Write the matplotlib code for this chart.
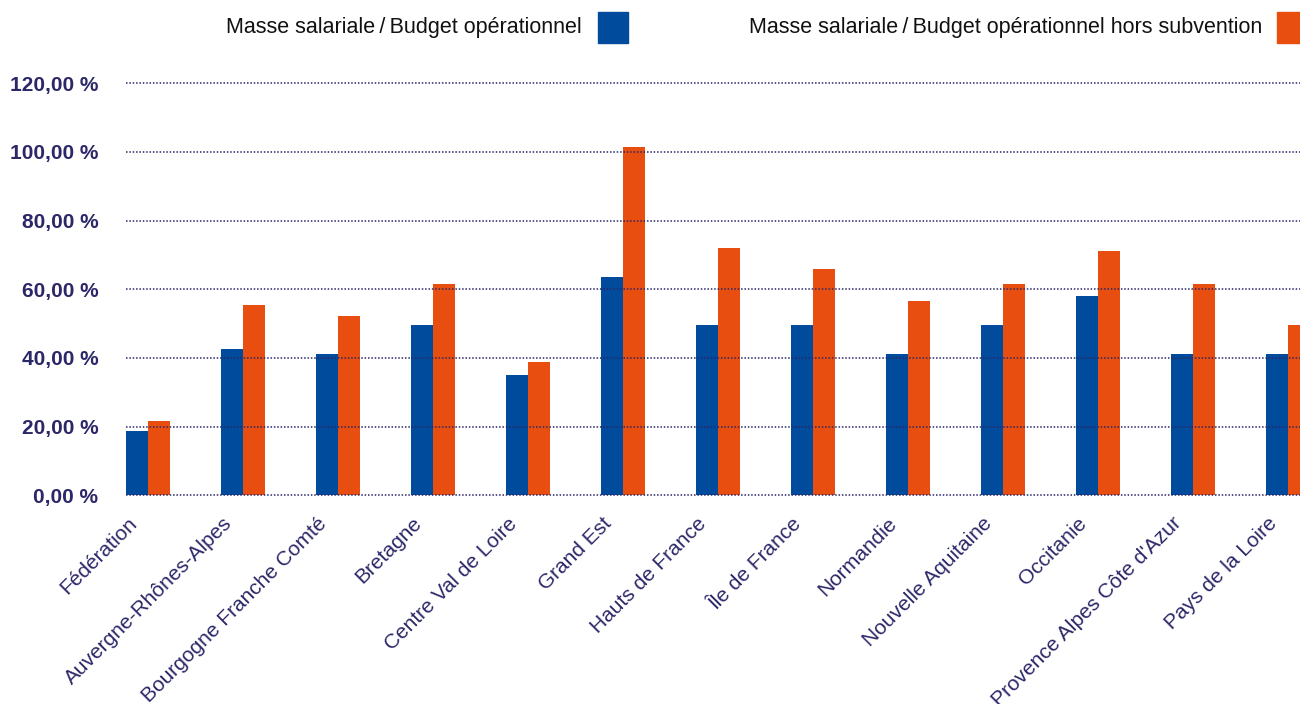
import matplotlib
matplotlib.use("Agg")
import matplotlib.pyplot as plt
import matplotlib.transforms as mtransforms
import numpy as np

categories = ["Fédération", "Auvergne-Rhônes-Alpes", "Bourgogne Franche Comté", "Bretagne",
              "Centre Val de Loire", "Grand Est", "Hauts de France", "Île de France",
              "Normandie", "Nouvelle Aquitaine", "Occitanie", "Provence Alpes Côte d'Azur",
              "Pays de la Loire"]
masse_budget = [18.7, 42.6, 41.2, 49.6, 35.1, 63.5, 49.6, 49.6, 41.2, 49.6, 58.1, 41.2, 41.2]
masse_budget_hors_subv = [21.7, 55.5, 52.3, 61.5, 38.9, 101.5, 72.0, 66.0, 56.6, 61.5, 71.2, 61.5, 49.6]
yticks = [0, 20, 40, 60, 80, 100, 120]
ytick_labels = ["0,00 %", "20,00 %", "40,00 %", "60,00 %", "80,00 %", "100,00 %", "120,00 %"]
legend_labels = ["Masse salariale\u2009/\u2009Budget opérationnel",
                 "Masse salariale\u2009/\u2009Budget opérationnel hors subvention"]

BLUE = "#004b9b"
ORANGE = "#e84e0f"
NAVY = "#2b2768"

plt.rcParams['font.family'] = ['Liberation Sans', 'DejaVu Sans']

W, H = 1300, 704
fig = plt.figure(figsize=(W / 100, H / 100), dpi=100)

# pixel geometry
ppu = (495.3 - 83.3) / 120.0
y0_px = 495.3
ymin, ymax = -1.2, 121.5
bottom_px = y0_px + (0 - ymin) * ppu
top_px = y0_px - (ymax - 0) * ppu
spacing = 95.0
bw = 22.0 / spacing
left_px = 126.0
xmin = -bw
xmax = xmin + (W - left_px) / spacing

ax = fig.add_axes([left_px / W, 1 - bottom_px / H, (W - left_px) / W, (bottom_px - top_px) / H])
x = np.arange(len(categories))
ax.bar(x - bw / 2, masse_budget, width=bw, color=BLUE, zorder=1)
ax.bar(x + bw / 2, masse_budget_hors_subv, width=bw, color=ORANGE, zorder=1)

ax.set_xlim(xmin, xmax)
ax.set_ylim(ymin, ymax)
ax.set_yticks(yticks)
ax.set_yticklabels(ytick_labels, fontsize=15, fontweight='bold', color=NAVY)
ax.set_xticks([])
# category labels, rotated, anchored just below each blue bar
lbl_tr = ax.get_xaxis_transform() + mtransforms.ScaledTranslation(-10 / 100, -14.5 / 100, fig.dpi_scale_trans)
for xi, cat in zip(x, categories):
    ax.text(xi - bw / 2, 0, cat, transform=lbl_tr, rotation=45, ha='right', va='top',
            rotation_mode='anchor', fontsize=15, color=NAVY, clip_on=False)
ax.tick_params(axis='both', length=0)
ax.tick_params(axis='y', pad=20)
for s in ax.spines.values():
    s.set_visible(False)
ax.set_axisbelow(False)
ax.yaxis.grid(True, linestyle=(0, (1, 1.2)), linewidth=1.1, color=NAVY, zorder=3)
ax.xaxis.grid(False)

# legend (text + square)
fig.text(582 / W, 1 - 28 / H, legend_labels[0], ha='right', va='center', fontsize=15.5, color='#111111')
fig.patches.append(matplotlib.patches.Rectangle((598 / W, 1 - 43 / H), 30 / W, 31 / H,
                                                 transform=fig.transFigure, color=BLUE))
fig.text(1262 / W, 1 - 28 / H, legend_labels[1], ha='right', va='center', fontsize=15.5, color='#111111')
fig.patches.append(matplotlib.patches.Rectangle((1277 / W, 1 - 43 / H), 30 / W, 31 / H,
                                                 transform=fig.transFigure, color=ORANGE))

fig.savefig("out.png", dpi=100)
